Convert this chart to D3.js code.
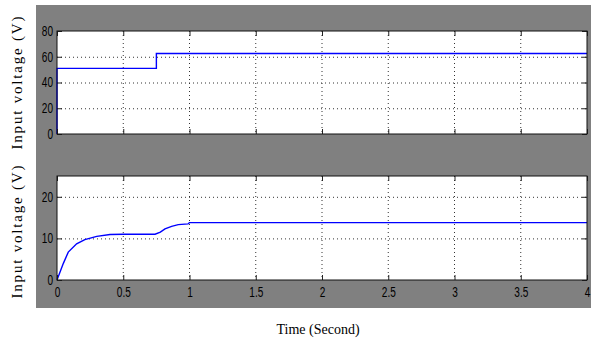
<!DOCTYPE html>
<html><head><meta charset="utf-8">
<script src="https://cdn.jsdelivr.net/npm/d3@7"></script>
<style>body{margin:0;background:#fff}svg{display:block}</style>
</head><body><svg id="c" width="591" height="341"></svg>
<script>
const xTicks = [0, 0.5, 1, 1.5, 2, 2.5, 3, 3.5, 4];
const xTickLabels = ["0","0.5","1","1.5","2","2.5","3","3.5","4"];
const topYTicks = [0, 20, 40, 60, 80];
const botYTicks = [0, 10, 20];
const topT = [0, 0, 0.75, 0.75, 4];
const topV = [0, 51, 51, 62.5, 62.5];
const botT = [0, 0.048, 0.085, 0.148, 0.21, 0.30, 0.40, 0.50, 0.74, 0.78, 0.815, 0.865, 0.915, 0.99, 1.0, 4];
const botV = [0, 4.0, 6.7, 8.7, 9.7, 10.5, 10.95, 11.0, 11.0, 11.5, 12.3, 12.9, 13.3, 13.5, 13.8, 13.8];
const yLabel = "Input voltage (V)";
const xLabel = "Time (Second)";

const svg = d3.select("#c");
svg.append("rect").attr("x",36).attr("y",5).attr("width",555).attr("height",303).attr("fill","#808080");

const x = d3.scaleLinear().domain([0,4]).range([57,587]);
const panels = [
  {y: d3.scaleLinear().domain([0,80]).range([134,31]), ticks: topYTicks, t: topT, v: topV, showX:false, labelY:83},
  {y: d3.scaleLinear().domain([0,25]).range([280,176]), ticks: botYTicks, t: botT, v: botV, showX:true, labelY:232}
];
function narrow(sel){
  // condense tick labels horizontally around their anchor
  sel.each(function(){
    const t = d3.select(this);
    const anchor = t.attr("text-anchor") || getComputedStyle(this).textAnchor;
    const b = this.getBBox();
    const ax = anchor==="end" ? b.x+b.width : (anchor==="middle" ? b.x+b.width/2 : b.x);
    t.attr("transform",`translate(${ax},0) scale(0.72,1) translate(${-ax},0)`);
  });
}
panels.forEach(p => {
  const y = p.y;
  const [y0,y1] = y.range();
  const g = svg.append("g");
  g.append("rect").attr("x",x(0)).attr("y",y1).attr("width",x(4)-x(0)).attr("height",y0-y1).attr("fill","#fff");
  g.selectAll(".gx").data(xTicks.slice(1,-1)).join("line")
    .attr("x1",d=>x(d)).attr("x2",d=>x(d)).attr("y1",y1).attr("y2",y0)
    .attr("stroke","#333").attr("stroke-width",1).attr("stroke-dasharray","1,3");
  g.selectAll(".gy").data(p.ticks.filter(d=>d>y.domain()[0] && d<y.domain()[1])).join("line")
    .attr("x1",x(0)).attr("x2",x(4)).attr("y1",d=>y(d)+0.5).attr("y2",d=>y(d)+0.5)
    .attr("stroke","#333").attr("stroke-width",1).attr("stroke-dasharray","1,3");
  const pts = p.t.map((t,i)=>[t,p.v[i]]);
  g.append("path").datum(pts).attr("fill","none").attr("stroke","#0000ff").attr("stroke-width",1.4)
    .attr("d", d3.line().x(d=>x(d[0])).y(d=>y(d[1])));
  const ax = d3.axisBottom(x).tickValues(xTicks).tickSize(-5).tickPadding(7)
    .tickFormat((d,i)=> p.showX ? xTickLabels[i] : "");
  const axG = g.append("g").attr("transform",`translate(0,${y0})`).call(ax);
  const axT = g.append("g").attr("transform",`translate(0,${y1})`).call(d3.axisTop(x).tickValues(xTicks).tickSize(-5).tickFormat(""));
  const ay = g.append("g").attr("transform",`translate(${x(0)},0)`).call(d3.axisLeft(y).tickValues(p.ticks).tickSize(-5).tickPadding(4));
  const ayR = g.append("g").attr("transform",`translate(${x(4)},0)`).call(d3.axisRight(y).tickValues(p.ticks).tickSize(-5).tickFormat(""));
  [axG,axT,ay,ayR].forEach(a=>{
    a.select(".domain").remove();
    a.selectAll("line").attr("stroke","#222");
    a.selectAll("text").attr("font-family","'Liberation Sans',Arial,sans-serif").attr("font-size",14).attr("fill","#000");
  });
  narrow(axG.selectAll("text"));
  narrow(ay.selectAll("text"));
  g.append("rect").attr("x",x(0)).attr("y",y1).attr("width",x(4)-x(0)).attr("height",y0-y1)
    .attr("fill","none").attr("stroke","#111").attr("stroke-width",1);
  svg.append("text").attr("transform",`translate(22,${p.labelY}) rotate(-90)`)
    .attr("text-anchor","middle").attr("font-family","'Liberation Serif','Times New Roman',serif")
    .attr("font-size",15).attr("textLength",133).attr("lengthAdjust","spacing").text(yLabel);
});
svg.append("text").attr("x",318).attr("y",334).attr("text-anchor","middle")
  .attr("font-family","'Liberation Serif','Times New Roman',serif").attr("font-size",14).text(xLabel);
</script></body></html>
